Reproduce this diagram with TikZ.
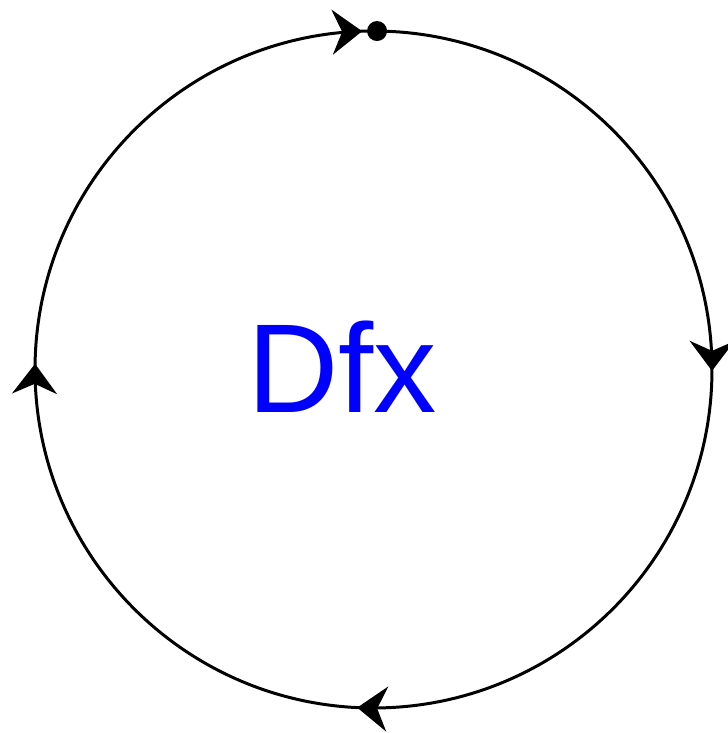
\documentclass[tikz,border=0pt]{standalone}
\usepackage{fontspec}
\setmainfont{Liberation Sans}
\usetikzlibrary{arrows.meta, decorations.markings, calc}
\newcommand{\corTexto}{blue}
\newcommand{\corLinha}{black}
\tikzset{
  ponta/.tip={Stealth[length=0.6cm, width=0.9cm, inset=0.2cm]},
  laco/.style={\corLinha, line width=1.7pt, postaction={decorate},
    decoration={markings,
      mark=at position 0.249 with {\arrow{ponta}},
      mark=at position 0.506 with {\arrow{ponta}},
      mark=at position 0.751 with {\arrow{ponta}},
      mark=at position 0.993 with {\arrow{ponta}}}}
}

\begin{document}
\begin{tikzpicture}[x = 0.2mm, y = 0.2mm]
    \useasboundingbox (0,0) rectangle (727,733);

      % centro e ponto base
    \coordinate (centro) at (373.5,363.5);
    \coordinate (base) at ($(centro)+(89.4:338.5)$);

      % circulo orientado
    \draw [laco] (base) arc[start angle=89.4, end angle=-270.6, radius=338.5];

    \node [circle, fill=\corLinha, inner sep=0pt, minimum size=0.4cm] (ponto) at (base) {};

      % rotulo
    \node [text=\corTexto, anchor=base, inner sep=0pt, font=\fontsize{72}{86}\selectfont] (rotulo) at (342,320) {Dfx};
\end{tikzpicture}
\end{document}
